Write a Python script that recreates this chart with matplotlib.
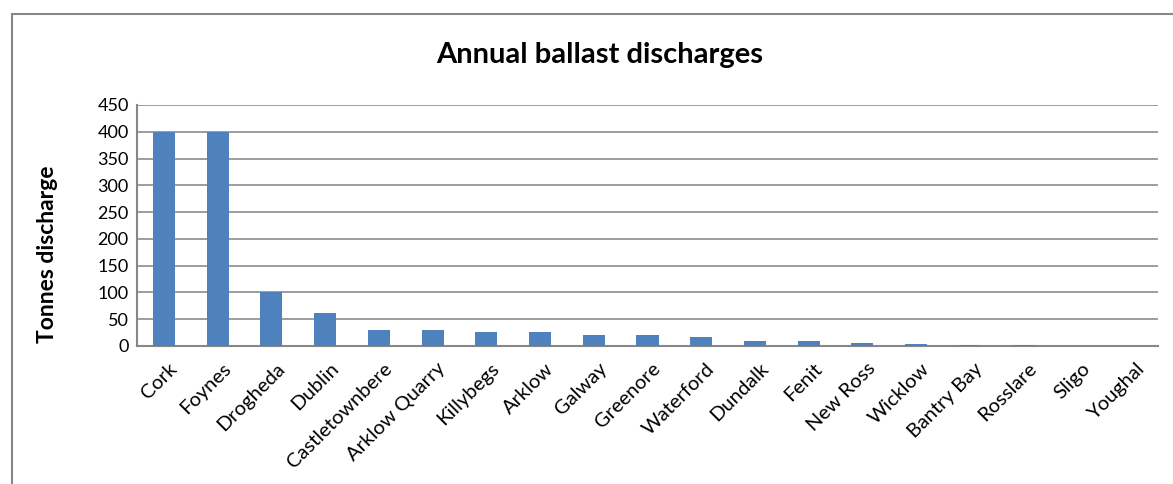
import matplotlib
matplotlib.use("Agg")
from matplotlib import pyplot as plt
from matplotlib.patches import Rectangle

ports = ['Cork', 'Foynes', 'Drogheda', 'Dublin', 'Castletownbere', 'Arklow Quarry',
         'Killybegs', 'Arklow', 'Galway', 'Greenore', 'Waterford', 'Dundalk', 'Fenit',
         'New Ross', 'Wicklow', 'Bantry Bay', 'Rosslare', 'Sligo', 'Youghal']
tonnes = [400, 400, 100, 62.5, 30, 29, 26, 26, 20, 20, 17.5, 10, 9.5, 5, 4.5, 1.2, 1, 0, 0]
yticks = [0, 50, 100, 150, 200, 250, 300, 350, 400, 450]

plt.rcParams['font.family'] = ['Lato', 'DejaVu Sans']

fig = plt.figure(figsize=(11.73, 4.84), dpi=100)
ax = fig.add_axes([137 / 1173, 1 - 346 / 484, (1158 - 137) / 1173, (346 - 105) / 484])

# outer chart frame
fig.patches.append(Rectangle((12 / 1173, -0.01), 1.2, 1 - 14 / 484 + 0.01,
                             transform=fig.transFigure, fill=False,
                             edgecolor='#878787', linewidth=1.5))

x = range(len(ports))
ax.bar(x, tonnes, width=0.41, color='#4F81BD', zorder=3)

ax.set_xlim(-0.5, len(ports) - 0.5)
ax.set_ylim(0, 450)
ax.set_yticks(yticks)
ax.yaxis.grid(True, color='#8C8C8C', linewidth=1.2, zorder=0)
ax.set_xticks([i + 0.08 for i in x])
ax.set_xticklabels(ports, rotation=45, ha='right', rotation_mode='anchor', fontsize=14.5)
ax.tick_params(axis='y', labelsize=13, length=0, pad=6)
ax.tick_params(axis='x', length=0, pad=10)

for side in ['top', 'right']:
    ax.spines[side].set_visible(False)
for side in ['left', 'bottom']:
    ax.spines[side].set_color('#878787')
    ax.spines[side].set_linewidth(1.5)

fig.text(48 / 1173, 1 - 254 / 484, 'Tonnes discharge', rotation=90, ha='center', va='center',
         fontsize=16.5, fontweight='bold')
fig.text(600 / 1173, 1 - 55 / 484, 'Annual ballast discharges', ha='center', va='center',
         fontsize=21, fontweight='bold')

fig.savefig('out.png', dpi=100)
